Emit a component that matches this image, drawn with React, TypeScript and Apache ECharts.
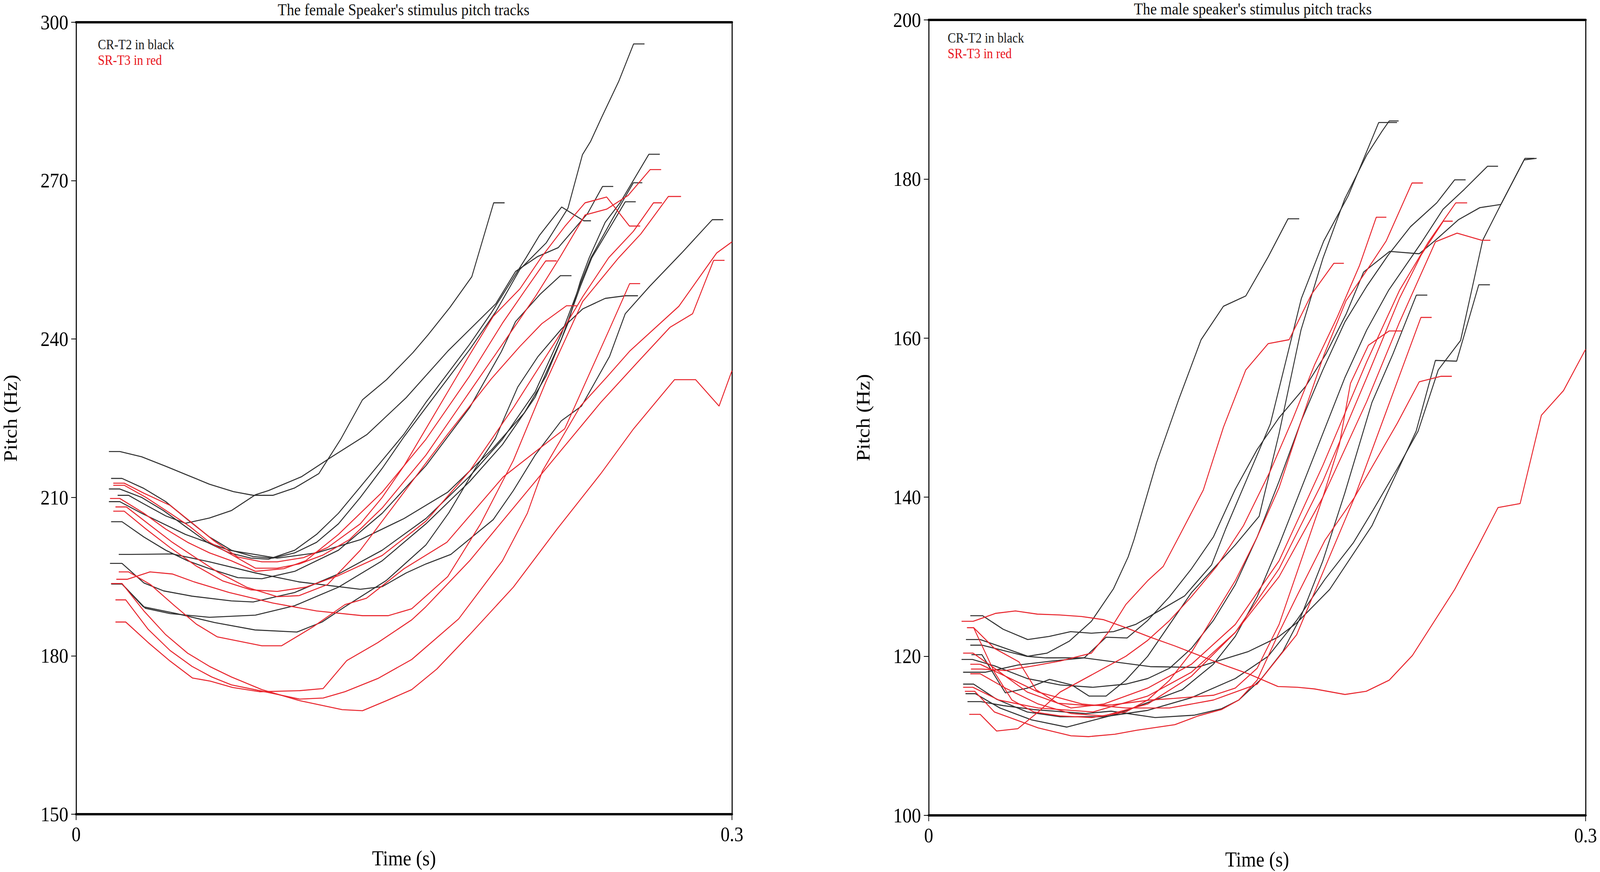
import React, { useEffect, useRef, useState } from "react";
import * as echarts from "echarts";

// ---------- Female speaker: CR-T2 (black) tracks [time s, pitch Hz] ----------
const fCR1 = [[0.015,218.7],[0.020,218.7],[0.030,217.7],[0.041,215.9],[0.051,214.2],[0.061,212.5],[0.072,211.1],[0.081,210.4],[0.090,210.4],[0.100,211.8],[0.111,214.5],[0.121,221.0],[0.131,228.5],[0.142,232.3],[0.154,237.4],[0.161,240.8],[0.171,246.0],[0.181,251.8],[0.191,265.8],[0.196,265.8]];
const fCR2 = [[0.016,213.6],[0.021,213.6],[0.031,211.7],[0.041,209.2],[0.051,205.8],[0.061,202.5],[0.071,200.0],[0.081,198.8],[0.090,198.5],[0.100,199.5],[0.110,201.5],[0.120,205.0],[0.130,210.0],[0.140,215.5],[0.150,221.5],[0.160,227.0],[0.170,232.5],[0.180,238.0],[0.192,245.2],[0.203,253.2],[0.215,258.2],[0.225,264.8],[0.2316,274.9],[0.2353,277.4],[0.2404,282.0],[0.2482,288.8],[0.255,295.9],[0.260,295.9]];
const fCR3 = [[0.015,211.6],[0.020,211.6],[0.030,210.0],[0.040,207.5],[0.050,204.5],[0.060,201.5],[0.070,199.5],[0.080,198.5],[0.088,198.3],[0.100,200.0],[0.110,203.0],[0.120,207.0],[0.130,212.0],[0.140,217.0],[0.150,222.0],[0.160,228.0],[0.170,233.5],[0.180,239.0],[0.190,245.0],[0.2058,255.4],[0.2119,259.6],[0.2221,265.0],[0.2322,262.4],[0.2355,262.4]];
const fCR4 = [[0.019,210.4],[0.024,210.4],[0.030,209.0],[0.041,206.5],[0.050,205.1],[0.061,206.1],[0.071,207.5],[0.082,210.5],[0.088,211.3],[0.103,213.9],[0.117,217.7],[0.133,221.9],[0.151,228.9],[0.170,237.7],[0.192,246.7],[0.201,252.8],[0.211,255.6],[0.2205,257.3],[0.234,263.8],[0.2408,268.9],[0.2457,268.9]];
const fCR5 = [[0.015,209.2],[0.020,209.2],[0.030,207.0],[0.050,203.0],[0.070,200.0],[0.092,198.5],[0.110,199.5],[0.130,202.0],[0.150,206.0],[0.170,211.0],[0.190,219.0],[0.205,226.0],[0.215,233.0],[0.225,243.0],[0.2307,251.0],[0.2347,255.4],[0.242,262.1],[0.2488,265.8],[0.262,275.0],[0.267,275.0]];
const fCR6 = [[0.0155,197.5],[0.021,197.5],[0.031,193.8],[0.040,192.3],[0.053,191.3],[0.071,190.4],[0.081,190.2],[0.100,192.0],[0.120,195.5],[0.140,200.0],[0.160,206.0],[0.180,214.0],[0.195,221.0],[0.210,230.0],[0.222,241.0],[0.2307,250.5],[0.2355,255.4],[0.245,262.5],[0.2549,269.6],[0.259,269.6]];
const fCR7 = [[0.016,193.6],[0.021,193.6],[0.0317,189.0],[0.043,188.0],[0.061,187.3],[0.082,187.7],[0.100,189.5],[0.120,193.0],[0.140,198.0],[0.160,205.0],[0.180,213.0],[0.195,220.0],[0.210,229.0],[0.222,240.0],[0.2307,250.0],[0.2359,255.4],[0.2512,266.0],[0.256,266.0]];
const fCR8 = [[0.0195,199.2],[0.025,199.2],[0.044,199.3],[0.061,197.8],[0.082,195.7],[0.102,194.0],[0.130,192.6],[0.140,193.1],[0.151,195.7],[0.160,197.4],[0.1714,199.2],[0.1908,205.8],[0.200,211.3],[0.2101,218.1],[0.2219,224.5],[0.2312,227.3],[0.244,236.7],[0.2512,244.8],[0.2624,250.0],[0.277,256.3],[0.291,262.6],[0.296,262.6]];
const fCR9 = [[0.016,205.4],[0.021,205.4],[0.031,202.5],[0.041,200.0],[0.051,198.0],[0.061,196.5],[0.074,194.8],[0.085,194.6],[0.100,196.0],[0.120,200.0],[0.140,207.0],[0.160,216.0],[0.180,227.0],[0.1945,237.6],[0.201,243.3],[0.2123,248.5],[0.2215,252.0],[0.2266,252.0]];
const fCR10 = [[0.0164,193.6],[0.021,193.6],[0.0307,189.3],[0.046,188.0],[0.0634,186.3],[0.0818,184.9],[0.101,184.5],[0.1125,186.4],[0.123,189.3],[0.142,194.3],[0.160,201.0],[0.1705,207.1],[0.1826,215.5],[0.1918,221.2],[0.202,230.9],[0.2113,236.7],[0.222,241.9],[0.2317,245.7],[0.242,247.7],[0.2512,248.2],[0.257,248.2]];

// ---------- Female speaker: SR-T3 (red) tracks ----------
const fSR1 = [[0.017,212.7],[0.022,212.7],[0.031,210.8],[0.043,208.5],[0.053,205.2],[0.063,201.8],[0.074,198.7],[0.085,197.8],[0.092,197.8],[0.104,198.6],[0.115,200.5],[0.130,205.0],[0.140,210.0],[0.150,216.0],[0.160,223.0],[0.170,230.0],[0.180,237.0],[0.1908,244.3],[0.203,249.5],[0.213,255.6],[0.2235,261.3],[0.2328,265.8],[0.2427,266.9],[0.2531,261.4],[0.258,261.4]];
const fSR2 = [[0.017,212.3],[0.022,212.3],[0.032,210.0],[0.043,207.0],[0.052,204.5],[0.061,201.5],[0.071,199.2],[0.082,196.6],[0.092,196.6],[0.102,197.4],[0.113,199.1],[0.125,202.0],[0.140,208.0],[0.150,213.0],[0.160,218.0],[0.170,224.0],[0.180,230.0],[0.190,236.0],[0.200,242.0],[0.210,248.0],[0.2212,255.4],[0.2328,263.5],[0.2427,264.6],[0.2525,267.2],[0.2626,272.1],[0.2676,272.1]];
const fSR3 = [[0.0155,209.8],[0.020,209.8],[0.031,207.0],[0.041,204.0],[0.051,201.5],[0.061,199.5],[0.071,198.0],[0.082,196.0],[0.095,196.5],[0.105,198.0],[0.120,203.0],[0.140,211.0],[0.160,221.0],[0.180,233.0],[0.195,243.0],[0.205,249.0],[0.2148,254.8],[0.2198,254.8]];
const fSR4 = [[0.018,208.2],[0.023,208.2],[0.033,205.0],[0.044,201.5],[0.055,198.5],[0.065,195.8],[0.078,193.0],[0.092,191.2],[0.102,191.4],[0.115,193.5],[0.130,200.0],[0.150,211.0],[0.170,222.0],[0.190,232.5],[0.203,238.6],[0.213,242.9],[0.2243,246.3],[0.229,246.3]];
const fSR5 = [[0.017,207.4],[0.022,207.4],[0.032,204.0],[0.043,200.5],[0.055,197.0],[0.067,194.2],[0.080,192.5],[0.092,192.2],[0.105,193.0],[0.120,195.2],[0.140,199.0],[0.160,205.5],[0.180,215.0],[0.200,227.0],[0.220,240.0],[0.2317,248.0],[0.2436,255.4],[0.2549,260.4],[0.2641,265.8],[0.268,265.8]];
const fSR6 = [[0.0195,195.9],[0.024,195.9],[0.034,193.5],[0.045,189.5],[0.055,186.0],[0.0645,183.6],[0.085,181.9],[0.094,181.9],[0.1084,185.5],[0.123,189.7],[0.1328,190.9],[0.150,196.5],[0.1696,201.5],[0.1954,213.9],[0.2235,223.0],[0.244,241.9],[0.2532,250.5],[0.258,250.5]];
const fSR7 = [[0.0184,194.5],[0.0235,194.5],[0.0338,195.9],[0.044,195.5],[0.054,194.0],[0.070,192.0],[0.090,190.0],[0.110,188.5],[0.131,187.6],[0.1427,187.6],[0.1535,188.9],[0.170,195.0],[0.185,205.0],[0.200,217.0],[0.215,232.0],[0.2317,247.1],[0.2482,255.4],[0.2583,259.9],[0.2709,267.0],[0.2767,267.0]];
const fSR8 = [[0.016,193.7],[0.021,193.7],[0.031,188.5],[0.041,184.0],[0.051,180.5],[0.061,178.0],[0.071,176.0],[0.085,173.6],[0.1023,171.5],[0.1217,169.8],[0.131,169.6],[0.142,171.5],[0.1535,173.6],[0.165,177.5],[0.180,184.0],[0.200,193.0],[0.220,204.0],[0.240,214.5],[0.255,223.0],[0.2737,232.3],[0.2834,232.3],[0.2941,227.3],[0.300,234.0]];
const fSR9 = [[0.018,190.6],[0.0227,190.6],[0.033,185.0],[0.043,181.0],[0.053,178.0],[0.062,176.0],[0.071,174.5],[0.084,173.4],[0.1023,171.8],[0.113,172.0],[0.123,173.2],[0.138,175.7],[0.1535,179.3],[0.175,187.0],[0.195,198.0],[0.2064,207.0],[0.2133,215.0],[0.2307,227.3],[0.243,232.9],[0.2532,237.7],[0.2757,246.2],[0.293,256.3],[0.300,258.4]];
const fSR10 = [[0.018,186.4],[0.0227,186.4],[0.033,182.5],[0.043,179.0],[0.0532,175.8],[0.0614,175.2],[0.0716,174.0],[0.0839,173.2],[0.1023,173.4],[0.113,173.8],[0.1238,179.1],[0.138,182.5],[0.1535,186.8],[0.160,189.3],[0.180,198.0],[0.200,208.0],[0.220,218.0],[0.240,228.0],[0.2566,235.5],[0.2716,242.2],[0.282,244.8],[0.2916,254.9],[0.2966,254.9]];

// ---------- Male speaker: CR-T2 (black) tracks ----------
const mCR1 = [[0.017,122.1],[0.0235,122.1],[0.033,121.2],[0.0452,120.0],[0.0541,120.4],[0.0642,121.9],[0.0743,124.4],[0.0844,128.5],[0.0911,132.5],[0.0938,134.7],[0.104,144.3],[0.1142,152.3],[0.1244,159.8],[0.1346,164.0],[0.1448,165.3],[0.155,170.2],[0.1641,175.0],[0.1692,175.0]];
const mCR2 = [[0.019,125.1],[0.0246,125.1],[0.034,123.4],[0.0452,122.1],[0.055,122.5],[0.0648,123.1],[0.0743,122.9],[0.0844,123.1],[0.0945,124.0],[0.1051,125.7],[0.1169,127.6],[0.1213,129.0],[0.1292,131.5],[0.1356,136.0],[0.1458,142.6],[0.156,149.2],[0.1702,165.0],[0.1804,172.2],[0.1916,177.9],[0.2028,185.3],[0.2055,187.1],[0.2139,187.1]];
const mCR3 = [[0.0195,120.2],[0.0243,120.2],[0.035,115.4],[0.0452,116.0],[0.0552,117.1],[0.0653,116.4],[0.0732,115.0],[0.081,115.0],[0.090,117.0],[0.100,120.0],[0.110,124.0],[0.120,128.0],[0.130,131.0],[0.140,134.0],[0.1509,137.6],[0.160,148.0],[0.170,161.0],[0.180,170.0],[0.190,177.5],[0.200,183.0],[0.207,186.0],[0.2103,187.3],[0.2146,187.3]];
const mCR4 = [[0.0157,118.0],[0.026,118.0],[0.0407,118.9],[0.0564,119.4],[0.071,119.8],[0.081,122.4],[0.0906,122.3],[0.100,124.5],[0.110,127.5],[0.120,131.0],[0.130,135.0],[0.140,141.0],[0.150,146.0],[0.160,150.0],[0.1723,154.0],[0.1814,158.0],[0.1906,163.0],[0.1986,168.3],[0.2105,170.9],[0.2240,170.6],[0.2314,172.3],[0.242,174.9],[0.2517,176.4],[0.2613,176.8],[0.2723,182.6],[0.2767,182.6]];
const mCR5 = [[0.0177,114.3],[0.0239,114.3],[0.034,113.8],[0.048,113.3],[0.0717,112.8],[0.0833,113.1],[0.1034,112.3],[0.1214,112.6],[0.1337,113.4],[0.1416,114.5],[0.1517,117.1],[0.1617,120.6],[0.170,125.0],[0.180,132.0],[0.190,140.5],[0.2024,151.9],[0.212,158.0],[0.2227,165.4],[0.2277,165.4]];
const mCR6 = [[0.015,119.6],[0.020,119.6],[0.030,118.8],[0.045,117.2],[0.060,116.4],[0.075,116.1],[0.090,116.5],[0.100,117.2],[0.110,118.5],[0.120,121.0],[0.130,124.5],[0.140,129.0],[0.150,135.0],[0.160,142.0],[0.170,149.5],[0.180,156.0],[0.190,162.0],[0.200,166.5],[0.210,170.5],[0.220,174.0],[0.232,177.0],[0.2402,179.9],[0.2452,179.9]];
const mCR7 = [[0.0168,115.3],[0.0213,115.3],[0.0325,113.5],[0.047,112.0],[0.063,111.1],[0.0743,111.9],[0.0855,112.7],[0.1012,114.3],[0.1158,115.8],[0.130,119.0],[0.140,122.5],[0.150,127.5],[0.160,134.0],[0.170,141.0],[0.180,148.0],[0.190,155.0],[0.200,161.0],[0.210,166.0],[0.225,172.0],[0.2349,176.2],[0.2446,178.7],[0.2552,181.6],[0.260,181.6]];
const mCR8 = [[0.0157,116.5],[0.0205,116.5],[0.031,114.6],[0.045,113.0],[0.060,112.4],[0.080,112.4],[0.100,113.2],[0.120,114.8],[0.140,117.2],[0.155,120.0],[0.168,124.5],[0.181,129.7],[0.194,134.3],[0.203,138.4],[0.214,143.6],[0.2235,148.3],[0.2327,156.0],[0.2429,159.7],[0.2530,172.3],[0.2613,176.8],[0.2719,182.4],[0.2776,182.6]];
const mCR9 = [[0.019,121.4],[0.0243,121.4],[0.033,120.8],[0.0446,120.0],[0.0535,119.8],[0.0709,119.8],[0.1012,118.7],[0.1225,118.6],[0.146,120.6],[0.1595,122.4],[0.1681,124.2],[0.1831,128.4],[0.2024,136.4],[0.2226,148.3],[0.2314,157.2],[0.2411,157.1],[0.2512,166.7],[0.2563,166.7]];

// ---------- Male speaker: SR-T3 (red) tracks ----------
const mSR1 = [[0.0193,118.4],[0.024,118.4],[0.035,118.2],[0.048,118.8],[0.060,119.4],[0.0743,120.4],[0.082,123.0],[0.090,126.5],[0.100,129.5],[0.1071,131.3],[0.1142,135.0],[0.1254,140.9],[0.1346,148.8],[0.1448,156.0],[0.155,159.3],[0.1646,159.8],[0.1748,165.5],[0.185,169.4],[0.1896,169.4]];
const mSR2 = [[0.0185,112.7],[0.0235,112.7],[0.031,110.6],[0.0407,110.9],[0.050,113.0],[0.060,115.5],[0.070,117.0],[0.080,118.5],[0.090,120.0],[0.100,122.0],[0.110,124.5],[0.120,127.5],[0.1315,131.3],[0.1437,136.4],[0.156,143.3],[0.1662,149.8],[0.1763,156.7],[0.1865,162.6],[0.1967,169.1],[0.2044,175.2],[0.209,175.2]];
const mSR3 = [[0.0175,123.6],[0.0205,123.6],[0.030,118.0],[0.038,114.5],[0.048,113.0],[0.060,112.5],[0.0745,112.3],[0.090,113.0],[0.100,114.5],[0.110,117.0],[0.120,120.5],[0.130,125.0],[0.140,129.5],[0.150,135.0],[0.160,141.2],[0.170,149.5],[0.1804,157.8],[0.1906,164.7],[0.200,168.5],[0.2089,172.2],[0.2207,179.5],[0.2257,179.5]];
const mSR4 = [[0.0175,123.6],[0.0205,123.6],[0.030,121.0],[0.0412,119.3],[0.049,115.8],[0.059,114.1],[0.073,113.8],[0.084,113.9],[0.1012,114.5],[0.112,114.7],[0.130,115.1],[0.140,116.0],[0.150,118.5],[0.160,124.0],[0.170,132.0],[0.180,140.0],[0.1876,146.7],[0.1926,154.3],[0.2008,159.1],[0.2103,160.9],[0.216,160.9]];
const mSR5 = [[0.0157,120.4],[0.0202,120.4],[0.030,118.5],[0.045,115.5],[0.065,113.5],[0.080,114.0],[0.100,116.0],[0.120,119.0],[0.140,124.0],[0.160,132.0],[0.180,144.0],[0.200,157.0],[0.215,166.0],[0.228,172.0],[0.2407,177.0],[0.2459,177.0]];
const mSR6 = [[0.019,117.8],[0.0235,117.8],[0.035,116.0],[0.050,114.0],[0.065,112.8],[0.080,112.5],[0.100,114.0],[0.120,117.5],[0.140,123.0],[0.160,131.0],[0.180,142.0],[0.200,155.0],[0.215,165.0],[0.225,170.5],[0.235,174.7],[0.2393,174.7]];
const mSR7 = [[0.0157,116.1],[0.0202,116.1],[0.032,114.5],[0.050,113.5],[0.075,113.0],[0.100,115.0],[0.120,118.0],[0.140,123.0],[0.160,130.0],[0.180,140.0],[0.200,152.0],[0.215,162.0],[0.2314,172.1],[0.2413,173.2],[0.2525,172.3],[0.2565,172.3]];
const mSR8 = [[0.019,119.0],[0.0235,119.0],[0.035,117.5],[0.050,115.5],[0.070,114.0],[0.090,113.5],[0.110,113.5],[0.130,114.5],[0.150,116.5],[0.168,122.7],[0.1945,140.0],[0.2248,162.6],[0.2297,162.6]];
const mSR9 = [[0.0165,115.6],[0.021,115.6],[0.030,113.0],[0.050,111.0],[0.065,110.0],[0.073,109.9],[0.085,110.2],[0.095,110.7],[0.1124,111.4],[0.123,112.5],[0.1337,113.3],[0.1416,114.5],[0.150,117.0],[0.160,123.0],[0.168,127.5],[0.181,134.6],[0.1945,140.0],[0.214,149.3],[0.224,154.5],[0.234,155.2],[0.2389,155.2]];
const mSR10 = [[0.015,124.4],[0.0203,124.4],[0.0306,125.4],[0.0396,125.7],[0.0496,125.3],[0.0597,125.2],[0.0698,125.0],[0.0799,124.6],[0.0900,123.6],[0.1012,122.4],[0.1124,121.3],[0.1236,120.1],[0.1348,118.9],[0.146,117.8],[0.1595,116.2],[0.1685,116.1],[0.1761,115.9],[0.1901,115.2],[0.1998,115.6],[0.2103,117.0],[0.2209,120.1],[0.2402,128.4],[0.2508,133.8],[0.2600,138.7],[0.2701,139.2],[0.2798,150.3],[0.2899,153.4],[0.300,158.6]];

const femaleCR = [fCR1, fCR2, fCR3, fCR4, fCR5, fCR6, fCR7, fCR8, fCR9, fCR10];
const femaleSR = [fSR1, fSR2, fSR3, fSR4, fSR5, fSR6, fSR7, fSR8, fSR9, fSR10];
const maleCR = [mCR1, mCR2, mCR3, mCR4, mCR5, mCR6, mCR7, mCR8, mCR9];
const maleSR = [mSR1, mSR2, mSR3, mSR4, mSR5, mSR6, mSR7, mSR8, mSR9, mSR10];

// Axis ranges and texts
const timeRange = [0, 0.3];
const femalePitchRange = [150, 300];
const femalePitchStep = 30;
const malePitchRange = [100, 200];
const malePitchStep = 20;
const panelTitles = ["The female Speaker's stimulus pitch tracks", "The male speaker's stimulus pitch tracks"];
const legendTexts = ["CR-T2 in black", "SR-T3 in red"];

// Design size of the reference figure
const DESIGN_W = 4562;
const DESIGN_H = 2233;

const FONT = "'Liberation Serif', 'Times New Roman', Times, serif";
const BLACK = "#2e2e2e";
const RED = "#e8242c";

export default function App() {
  const ref = useRef<HTMLDivElement>(null);
  const [scale, setScale] = useState<[number, number]>([
    Math.min(1, window.innerWidth / DESIGN_W),
    Math.min(1, window.innerHeight / DESIGN_H),
  ]);

  useEffect(() => {
    document.body.style.margin = "0";
    document.body.style.overflow = "hidden";
    const onResize = () =>
      setScale([Math.min(1, window.innerWidth / DESIGN_W), Math.min(1, window.innerHeight / DESIGN_H)]);
    window.addEventListener("resize", onResize);
    return () => window.removeEventListener("resize", onResize);
  }, []);

  useEffect(() => {
    if (!ref.current) return;
    const chart = echarts.init(ref.current, undefined, { renderer: "svg" });

    const bottomX = (gridIndex: number) => ({
      gridIndex,
      type: "value",
      min: timeRange[0],
      max: timeRange[1],
      interval: 0.3,
      position: "bottom",
      axisLine: { show: true, onZero: false, lineStyle: { color: "#000", width: 6 } },
      axisTick: { show: true, length: 15, lineStyle: { color: "#000", width: 2 } },
      axisLabel: {
        margin: 26,
        fontSize: 52,
        fontFamily: FONT,
        color: "#000",
        formatter: (v: number) => String(Math.round(v * 10) / 10),
      },
      splitLine: { show: false },
      name: "Time (s)",
      nameLocation: "middle",
      nameGap: 86,
      nameTextStyle: { fontSize: 54, fontFamily: FONT, color: "#000" },
    });
    const topX = (gridIndex: number) => ({
      gridIndex,
      type: "value",
      min: timeRange[0],
      max: timeRange[1],
      position: "top",
      axisLine: { show: true, onZero: false, lineStyle: { color: "#000", width: 6 } },
      axisTick: { show: false },
      axisLabel: { show: false },
      splitLine: { show: false },
    });
    const leftY = (gridIndex: number, range: number[], step: number) => ({
      gridIndex,
      type: "value",
      min: range[0],
      max: range[1],
      interval: step,
      position: "left",
      axisLine: { show: true, onZero: false, lineStyle: { color: "#000", width: 3 } },
      axisTick: { show: true, length: 14, lineStyle: { color: "#000", width: 2 } },
      axisLabel: { margin: 22, fontSize: 53, fontFamily: FONT, color: "#000" },
      splitLine: { show: false },
      name: "Pitch (Hz)",
      nameLocation: "middle",
      nameRotate: 90,
      nameGap: 160,
      nameTextStyle: { fontSize: 54, fontFamily: FONT, color: "#000" },
    });
    const rightY = (gridIndex: number, range: number[]) => ({
      gridIndex,
      type: "value",
      min: range[0],
      max: range[1],
      position: "right",
      axisLine: { show: true, onZero: false, lineStyle: { color: "#000", width: 3 } },
      axisTick: { show: false },
      axisLabel: { show: false },
      splitLine: { show: false },
    });

    const mk = (data: number[][], color: string, xi: number, yi: number) => ({
      type: "line",
      xAxisIndex: xi,
      yAxisIndex: yi,
      data,
      symbol: "none",
      showSymbol: false,
      silent: true,
      lineStyle: { color, width: 2.6 },
    });

    const titleStyle = { fontFamily: FONT, fontSize: 42, fontWeight: "normal", color: "#111" };
    const legendStyle = (color: string) => ({ fontFamily: FONT, fontSize: 35, fontWeight: "normal", color });

    chart.setOption({
      animation: false,
      backgroundColor: "#fff",
      title: [
        { text: panelTitles[0], left: 792, top: 4, padding: 0, textStyle: titleStyle },
        { text: legendTexts[0], left: 279, top: 96, padding: 0, textStyle: legendStyle("#1a1a1a") },
        { text: legendTexts[1], left: 279, top: 136, padding: 0, textStyle: legendStyle("#e8141c") },
        { text: panelTitles[1], left: 3233, top: 2, padding: 0, textStyle: titleStyle },
        { text: legendTexts[0], left: 2702, top: 79, padding: 0, textStyle: legendStyle("#1a1a1a") },
        { text: legendTexts[1], left: 2702, top: 119, padding: 0, textStyle: legendStyle("#e8141c") },
      ],
      grid: [
        { left: 217, top: 57, width: 1870, height: 2028, containLabel: false },
        { left: 2648, top: 51, width: 1873, height: 2037, containLabel: false },
      ],
      xAxis: [bottomX(0), topX(0), bottomX(1), topX(1)],
      yAxis: [
        leftY(0, femalePitchRange, femalePitchStep),
        rightY(0, femalePitchRange),
        leftY(1, malePitchRange, malePitchStep),
        rightY(1, malePitchRange),
      ],
      series: [
        ...femaleCR.map((d) => mk(d, BLACK, 0, 0)),
        ...femaleSR.map((d) => mk(d, RED, 0, 0)),
        ...maleCR.map((d) => mk(d, BLACK, 2, 2)),
        ...maleSR.map((d) => mk(d, RED, 2, 2)),
      ],
    });

    return () => chart.dispose();
  }, []);

  return (
    <div
      style={{
        width: Math.round(DESIGN_W * scale[0]),
        height: Math.round(DESIGN_H * scale[1]),
        overflow: "hidden",
        background: "#fff",
      }}
    >
      <div
        ref={ref}
        style={{
          width: DESIGN_W,
          height: DESIGN_H,
          background: "#fff",
          transform: `scale(${scale[0]}, ${scale[1]})`,
          transformOrigin: "0 0",
        }}
      />
    </div>
  );
}
